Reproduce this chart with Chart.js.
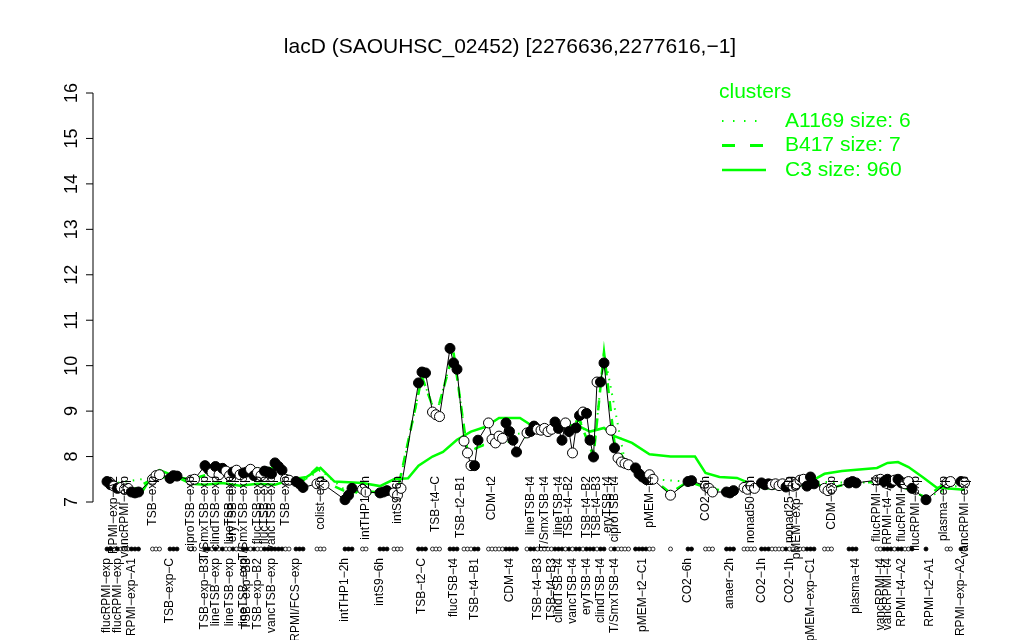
<!DOCTYPE html>
<html lang="en">
<head>
    <meta charset="UTF-8">
    <title>lacD expression profile</title>
    <script src="https://cdn.jsdelivr.net/npm/chart.js"></script>
    <style>
        body { margin: 0; background: #fff; }
    </style>
</head>
<body>
    <canvas id="myChart" width="1024" height="640"></canvas>
    <script>
        const title = 'lacD (SAOUHSC_02452) [2276636,2277616,-1]';

        // sample positions along the condition axis, expression value, filled marker (1) or open (0)
        const slots = [2, 3, 4, 5, 6, 7, 8, 9, 10, 11, 15, 16, 17, 20, 21, 22, 26, 27,
            30, 31, 32, 33, 34, 35, 36, 37, 38, 39, 40, 41, 42, 43, 44, 45, 46, 47, 48, 49, 50, 51, 52,
            53, 54, 56, 57, 58, 62, 63, 64, 70, 71, 72, 75, 76, 80, 81, 82, 84, 85, 86,
            91, 92, 93, 95, 96, 97, 100, 101, 102, 104, 105, 106, 107, 108,
            111, 112, 113, 114, 115, 116, 117, 118, 119,
            122, 123, 124, 125, 126, 127, 128, 129, 130, 131, 132, 133, 134, 135, 136, 137, 138, 139, 140, 141,
            142, 143, 144, 146, 147, 148, 149, 150, 151, 153, 154, 155, 156, 157, 158, 163, 168, 169,
            173, 174, 175, 179, 180, 181, 184, 185, 186, 187, 189, 190, 191, 192, 193, 194, 195, 196,
            197, 198, 199, 200, 201, 202, 203, 204, 207, 208, 209, 214, 215, 216,
            222, 223, 224, 225, 226, 227, 228, 229, 230, 231, 232, 236, 242, 243, 246, 247];
        const values = [7.45, 7.38, 7.35, 7.3, 7.32, 7.28, 7.3, 7.22, 7.2, 7.22, 7.5, 7.58, 7.6, 7.52, 7.58, 7.57, 7.48, 7.5,
            7.8, 7.72, 7.65, 7.78, 7.6, 7.74, 7.68, 7.58, 7.66, 7.7, 7.6, 7.64, 7.66, 7.72, 7.58, 7.65, 7.58, 7.68, 7.66, 7.62, 7.86, 7.78, 7.7,
            7.5, 7.48, 7.45, 7.4, 7.32, 7.4, 7.42, 7.38, 7.05, 7.15, 7.3, 7.28, 7.22, 7.2, 7.22, 7.25, 7.2, 7.15, 7.3,
            9.62, 9.86, 9.84, 8.98, 8.92, 8.88, 10.38, 10.06, 9.92, 8.34, 8.08, 7.8, 7.8, 8.36,
            8.74, 8.38, 8.3, 8.45, 8.4, 8.74, 8.55, 8.36, 8.1,
            8.52, 8.55, 8.67, 8.6, 8.58, 8.62, 8.55, 8.6, 8.76, 8.62, 8.36, 8.74, 8.55, 8.08, 8.63, 8.9, 8.98, 8.95, 8.36, 7.99,
            9.64, 9.64, 10.06, 8.58, 8.19, 7.97, 7.88, 7.85, 7.82, 7.75, 7.62, 7.55, 7.5, 7.6, 7.5, 7.15, 7.45, 7.47,
            7.35, 7.3, 7.22, 7.22, 7.2, 7.25, 7.32, 7.28, 7.35, 7.3, 7.42, 7.38, 7.4, 7.38, 7.4, 7.36, 7.4, 7.33,
            7.42, 7.35, 7.4, 7.48, 7.5, 7.35, 7.55, 7.4, 7.3, 7.25, 7.3, 7.42, 7.45, 7.42,
            7.48, 7.5, 7.45, 7.5, 7.42, 7.48, 7.5, 7.42, 7.4, 7.45, 7.3, 7.05, 7.42, 7.45, 7.45, 7.42];
        const filled = [1, 1, 0, 1, 0, 0, 0, 1, 1, 1, 0, 0, 0, 1, 1, 1, 0, 0,
            1, 1, 0, 1, 0, 1, 0, 0, 1, 0, 0, 1, 1, 0, 1, 0, 0, 1, 1, 1, 1, 1, 1,
            0, 0, 1, 1, 1, 0, 0, 0, 1, 1, 1, 0, 0, 1, 1, 1, 0, 0, 0,
            1, 1, 1, 0, 0, 0, 1, 1, 1, 0, 0, 0, 1, 1,
            0, 0, 0, 0, 0, 1, 1, 1, 1,
            0, 1, 1, 0, 0, 0, 0, 0, 1, 1, 1, 0, 1, 0, 1, 1, 0, 1, 1, 1,
            0, 1, 1, 0, 1, 0, 0, 0, 0, 1, 1, 1, 1, 0, 0, 0, 1, 1,
            0, 0, 0, 1, 1, 1, 0, 0, 0, 0, 1, 1, 1, 0, 0, 0, 0, 1,
            0, 0, 0, 0, 0, 1, 1, 1, 0, 0, 0, 1, 1, 1,
            0, 0, 1, 1, 1, 0, 1, 1, 0, 0, 1, 1, 0, 0, 1, 0];

        // cluster mean profiles
        const c3Slots = [2, 8, 12, 15, 17, 22, 26, 30, 35, 40, 45, 50, 55, 59, 63, 67, 75, 80, 84, 88, 91, 95, 98,
            102, 106, 110, 114, 120, 124, 130, 136, 140, 144, 147, 152, 157, 163, 170, 173, 177, 182, 186, 190,
            198, 203, 207, 212, 222, 225, 228, 231, 235, 239, 247];
        const c3Values = [7.35, 7.3, 7.22, 7.6, 7.7, 7.55, 7.4, 7.38, 7.42, 7.36, 7.4, 7.38, 7.5, 7.55, 7.75, 7.45, 7.42, 7.35, 7.5, 7.52, 7.8, 8.0, 8.1,
            8.37, 8.55, 8.65, 8.85, 8.85, 8.65, 8.65, 8.7, 8.55, 8.63, 8.45, 8.3, 8.05, 8.0, 8.0, 7.64, 7.55, 7.53, 7.4, 7.3,
            7.3, 7.45, 7.62, 7.68, 7.75, 7.86, 7.88, 7.77, 7.55, 7.32, 7.27];
        const b417Slots = [3, 9, 16, 21, 26, 35, 50, 54, 57, 62, 63, 64, 71, 75, 81, 85, 92, 96, 101, 105, 108, 114, 118,
            125, 131, 137, 141, 144, 147, 150, 155, 158, 163, 168, 174, 180, 185, 191, 198, 203, 208, 215, 226, 236, 242, 247];
        const b417Values = [7.4, 7.25, 7.55, 7.55, 7.5, 7.7, 7.75, 7.5, 7.4, 7.75, 7.7, 7.45, 7.2, 7.25, 7.2, 7.25, 9.75, 8.9, 10.3, 8.1, 8.2, 8.4, 8.3,
            8.55, 8.6, 8.8, 8.0, 10.3, 8.3, 7.9, 7.6, 7.5, 7.2, 7.45, 7.3, 7.22, 7.3, 7.4, 7.4, 7.45, 7.3, 7.42, 7.45, 7.1, 7.45, 7.42];
        const a1169Slots = [3, 16, 26, 35, 50, 57, 63, 71, 85, 92, 96, 101, 105, 114, 125, 137, 141, 144, 150, 158,
            168, 180, 191, 203, 215, 226, 236, 247];
        const a1169Values = [7.4, 7.55, 7.5, 7.68, 7.75, 7.42, 7.7, 7.2, 7.22, 9.75, 8.92, 10.3, 8.1, 8.42, 8.58, 8.85, 8.05, 10.3, 7.88, 7.5,
            7.45, 7.22, 7.4, 7.45, 7.42, 7.45, 7.1, 7.42];

        const yTicks = [7, 8, 9, 10, 11, 12, 13, 14, 15, 16];

        // condition names: upper row inside the plot, lower row under the marker strip
        const upperSlots = [4, 7, 15, 26, 30, 33, 37, 38, 41, 45, 47, 49, 53, 63, 76, 85, 96, 103, 112,
            123, 127, 131, 134, 139, 142, 145, 147, 157, 173, 186, 197, 199, 209, 222, 225, 229, 233, 241, 247];
        const upperNames = ['RPMI-exp-A2', 'vancRPMI-exp', 'TSB-exp', 'ciproTSB-exp', 'T/SmxTSB-exp', 'clindTSB-exp',
            'lineTSB-exp', 'eryTSB-exp', 'T/SmxTSB-exp', 'flucTSB-exp', 'flucTSB-exp', 'vancTSB-exp', 'TSB-exp',
            'colist-exp', 'intTHP1-2h', 'intS9-6h', 'TSB-t4-C', 'TSB-t2-B1', 'CDM-t2',
            'lineTSB-t4', 'T/SmxTSB-t4', 'lineTSB-t4', 'TSB-t4-B2', 'TSB-t4-B2', 'TSB-t4-B3', 'eryTSB-t4', 'ciproTSB-t4',
            'pMEM-t4', 'CO2-6h', 'nonad50-1h', 'nonad25-1h', 'pMEM-exp-C2', 'CDM-exp',
            'flucRPMI-t4', 'RPMI-t4-A2', 'flucRPMI-t4', 'flucRPMI-exp', 'plasma-exp', 'vancRPMI-exp'];
        const lowerSlots = [2, 5, 9, 20, 30, 33, 37, 41, 42, 45, 49, 56, 70, 80, 92, 101, 107, 117,
            125, 129, 131, 135, 139, 143, 147, 155, 168, 180, 189, 197, 203, 216, 223, 225, 229, 237, 246];
        const lowerNames = ['flucRPMI-exp', 'flucRPMI-exp', 'RPMI-exp-A1', 'TSB-exp-C', 'TSB-exp-B3', 'lineTSB-exp',
            'lineTSB-exp', 'lineTSB-exp', 'TSB-exp-B3', 'TSB-exp-B2', 'vancTSB-exp', 'RPMI/FCS-exp', 'intTHP1-2h',
            'intS9-6h', 'TSB-t2-C', 'flucTSB-t4', 'TSB-t4-B1', 'CDM-t4',
            'TSB-t4-B3', 'TSB-t4-B3', 'clindTSB-t4', 'vancTSB-t4', 'eryTSB-t4', 'clindTSB-t4', 'T/SmxTSB-t4',
            'pMEM-t2-C1', 'CO2-6h', 'anaer-2h', 'CO2-1h', 'CO2-1h', 'pMEM-exp-C1', 'plasma-t4',
            'vancRPMI-t4', 'vancRPMI-t4', 'RPMI-t4-A2', 'RPMI-t2-A1', 'RPMI-exp-A2'];

        const legendNames = ['A1169 size: 6', 'B417 size: 7', 'C3 size: 960'];

        const GREEN = '#00ff00';
        const FONT = '"Liberation Sans", Arial, sans-serif';
        const toPoints = (xs, ys) => xs.map((x, i) => ({ x: x, y: ys[i] }));
        const minus = (s) => s.replace(/-/g, '\u2212');

        // title, y axis, marker strip, names and legend drawn on top of the chart
        const decorPlugin = {
            id: 'decor',
            afterDraw: (chart) => {
                const ctx = chart.ctx;
                const area = chart.chartArea;
                const xs = chart.scales.x;
                const ys = chart.scales.y;
                ctx.save();

                ctx.fillStyle = '#000';
                ctx.font = '21px ' + FONT;
                ctx.textAlign = 'center';
                ctx.textBaseline = 'middle';
                ctx.fillText(minus(title), 510, 47);

                // y axis
                const axisX = area.left - 7;
                ctx.strokeStyle = '#000';
                ctx.lineWidth = 1;
                ctx.beginPath();
                ctx.moveTo(axisX, ys.getPixelForValue(yTicks[0]));
                ctx.lineTo(axisX, ys.getPixelForValue(yTicks[yTicks.length - 1]));
                yTicks.forEach(t => {
                    const py = ys.getPixelForValue(t);
                    ctx.moveTo(axisX, py);
                    ctx.lineTo(axisX - 7, py);
                });
                ctx.stroke();
                ctx.font = '18px ' + FONT;
                yTicks.forEach(t => {
                    ctx.save();
                    ctx.translate(axisX - 21, ys.getPixelForValue(t));
                    ctx.rotate(-Math.PI / 2);
                    ctx.fillText(String(t), 0, 0);
                    ctx.restore();
                });

                // marker strip under the plot
                const stripY = area.bottom + 47;
                slots.forEach((s, i) => {
                    ctx.beginPath();
                    ctx.arc(xs.getPixelForValue(s), stripY, 2, 0, Math.PI * 2);
                    ctx.fillStyle = filled[i] ? '#000' : '#fff';
                    ctx.fill();
                    ctx.lineWidth = 0.8;
                    ctx.stroke();
                });

                // condition names, rotated
                ctx.fillStyle = '#000';
                ctx.font = '12px ' + FONT;
                ctx.textBaseline = 'middle';
                ctx.textAlign = 'right';
                const drawNames = (pos, names, topY) => {
                    names.forEach((n, i) => {
                        ctx.save();
                        ctx.translate(xs.getPixelForValue(pos[i]), topY);
                        ctx.rotate(-Math.PI / 2);
                        ctx.fillText(minus(n), 0, 0);
                        ctx.restore();
                    });
                };
                drawNames(upperSlots, upperNames, area.bottom - 26);
                drawNames(lowerSlots, lowerNames, area.bottom + 56);

                // legend
                ctx.fillStyle = GREEN;
                ctx.strokeStyle = GREEN;
                ctx.font = '21px ' + FONT;
                ctx.textAlign = 'left';
                ctx.fillText('clusters', 719, 92);
                const dashes = [[1.5, 9.5], [13, 15], []];
                const widths = [2, 3, 2.5];
                legendNames.forEach((name, i) => {
                    const ly = 121 + i * 24.5;
                    ctx.beginPath();
                    ctx.setLineDash(dashes[i]);
                    ctx.lineWidth = widths[i];
                    ctx.moveTo(722, ly);
                    ctx.lineTo(766, ly);
                    ctx.stroke();
                    ctx.setLineDash([]);
                    ctx.fillText(name, 785, ly);
                });
                ctx.restore();
            }
        };

        const ctx = document.getElementById('myChart').getContext('2d');
        const chart = new Chart(ctx, {
            type: 'scatter',
            data: {
                datasets: [{
                    label: 'lacD',
                    data: toPoints(slots, values),
                    showLine: true,
                    borderColor: '#000',
                    borderWidth: 1,
                    pointRadius: 5,
                    pointBackgroundColor: filled.map(f => f ? '#000' : '#fff'),
                    pointBorderColor: '#000',
                    pointBorderWidth: 1,
                    clip: false
                }, {
                    label: 'A1169',
                    data: toPoints(a1169Slots, a1169Values),
                    showLine: true,
                    borderColor: GREEN,
                    borderWidth: 2,
                    borderDash: [1.5, 6],
                    pointRadius: 0,
                    clip: false
                }, {
                    label: 'B417',
                    data: toPoints(b417Slots, b417Values),
                    showLine: true,
                    borderColor: GREEN,
                    borderWidth: 2.5,
                    borderDash: [10, 8],
                    pointRadius: 0,
                    clip: false
                }, {
                    label: 'C3',
                    data: toPoints(c3Slots, c3Values),
                    showLine: true,
                    borderColor: GREEN,
                    borderWidth: 2.5,
                    pointRadius: 0,
                    clip: false
                }]
            },
            options: {
                responsive: false,
                animation: false,
                devicePixelRatio: 1,
                layout: { padding: { left: 100, right: 49, top: 93, bottom: 138 } },
                plugins: {
                    legend: { display: false },
                    tooltip: { enabled: false }
                },
                scales: {
                    x: { type: 'linear', min: 0, max: 250, display: false },
                    y: { min: 7, max: 16, display: false }
                }
            },
            plugins: [decorPlugin]
        });
    </script>
</body>
</html>
